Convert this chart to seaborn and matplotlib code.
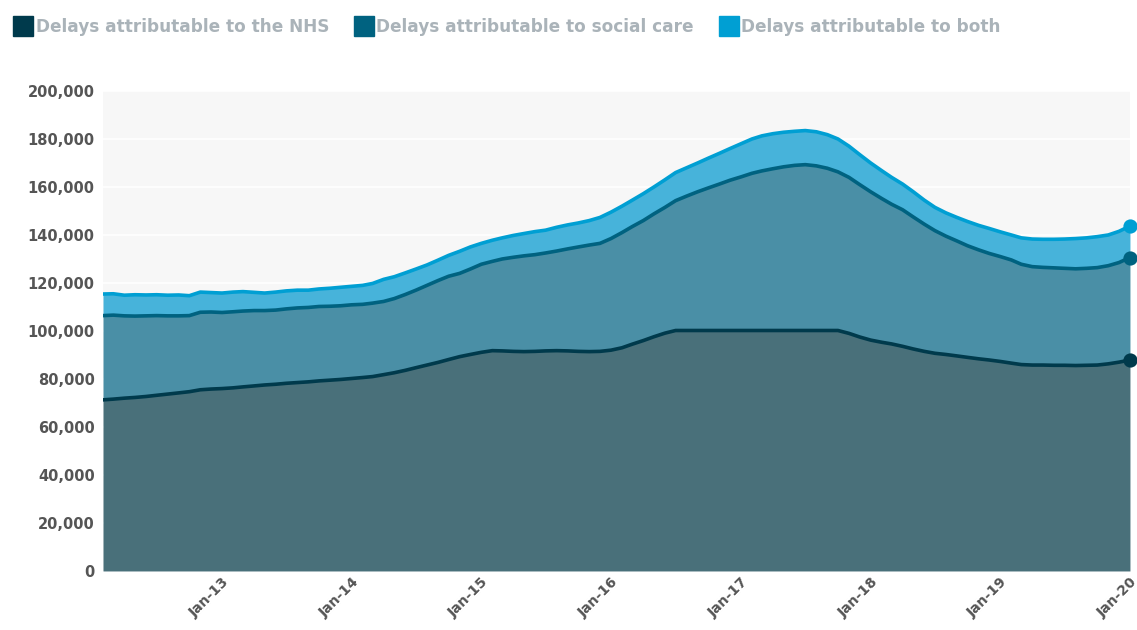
import pandas as pd
import numpy as np
import matplotlib
matplotlib.use("Agg")
import matplotlib.pyplot as plt
import matplotlib.dates as mdates
from matplotlib.lines import Line2D
from matplotlib.ticker import FuncFormatter
import seaborn as sns

# ================= data (monthly, Feb 2012 - Jan 2020) =================
months = pd.date_range("2012-02-01", periods=96, freq="MS")

nhs = [71300, 71600, 72000, 72300, 72700, 73200, 73700, 74200, 74700, 75500,
       75800, 76000, 76300, 76700, 77100, 77500, 77800, 78200, 78500, 78800,
       79200, 79500, 79800, 80200, 80600, 81000, 81800, 82600, 83600, 84700,
       85800, 86900, 88100, 89300, 90200, 91100, 91800, 91700, 91500, 91400,
       91500, 91700, 91800, 91700, 91500, 91400, 91500, 92000, 93000, 94500,
       96000, 97600, 99100, 100200, 100200, 100200, 100200, 100200, 100200, 100200,
       100200, 100200, 100200, 100200, 100200, 100200, 100200, 100200, 100200, 99000,
       97500, 96200, 95300, 94600, 93600, 92500, 91500, 90700, 90200, 89600,
       89000, 88400, 87900, 87300, 86600, 86000, 85800, 85800, 85700, 85700,
       85600, 85700, 85800, 86300, 87000, 87900]

social = [35100, 35000, 34300, 33900, 33600, 33200, 32600, 32100, 31700, 32300,
          32100, 31700, 31700, 31600, 31400, 31000, 30900, 31000, 31100, 31000,
          31000, 30800, 30700, 30700, 30500, 30600, 30500, 30900, 31600, 32300,
          33200, 34100, 34700, 34700, 35600, 36700, 37200, 38300, 39200, 39900,
          40300, 40800, 41500, 42500, 43500, 44400, 45000, 46500, 48000, 49000,
          50000, 51200, 52400, 54100, 56000, 57800, 59400, 61000, 62600, 64000,
          65500, 66500, 67400, 68200, 68800, 69100, 68600, 67600, 66100, 65000,
          63500, 61800, 59900, 58200, 56900, 55000, 53000, 51100, 49300, 47900,
          46500, 45400, 44400, 43700, 43000, 41800, 41000, 40700, 40600, 40400,
          40300, 40400, 40600, 40900, 41500, 42700]

both = [9000, 8900, 8600, 8900, 8700, 8700, 8600, 8700, 8300, 8400,
        8100, 8100, 8200, 8100, 7600, 7300, 7500, 7500, 7400, 7200,
        7300, 7500, 7700, 7700, 7900, 8200, 9200, 9100, 9000, 8800,
        8500, 8500, 8700, 9200, 9200, 8700, 8800, 8800, 9100, 9300,
        9600, 9500, 9900, 10000, 10000, 10200, 10800, 11000, 11000, 11000,
        11200, 11200, 11500, 11700, 11800, 12000, 12400, 12800, 13200, 13800,
        14300, 14600, 14600, 14400, 14200, 14200, 14200, 14000, 13700, 13000,
        12500, 12000, 11600, 11200, 10700, 10500, 10000, 9700, 9700, 9800,
        10100, 10200, 10400, 10300, 10400, 11000, 11500, 11700, 11900, 12200,
        12600, 12700, 12900, 12800, 13000, 13100]

labels = ["Delays attributable to the NHS",
          "Delays attributable to social care",
          "Delays attributable to both"]
line_colors = ["#003a4c", "#006280", "#009fd3"]
fill_colors = ["#49707a", "#4a8fa6", "#47b3da"]

df = pd.DataFrame({"month": months, "nhs": nhs, "social": social, "both": both})
df["lvl_nhs"] = df["nhs"]
df["lvl_social"] = df["nhs"] + df["social"]
df["lvl_both"] = df["lvl_social"] + df["both"]

# ================= style =================
sns.set_theme(style="white")
plt.rcParams["font.family"] = ["DejaVu Sans"]

fig = plt.figure(figsize=(11.37, 6.3), dpi=100)
ax = fig.add_axes([0.0906, 0.0937, 0.9032, 0.7619])
ax.set_facecolor("#f7f7f7")

for y in range(20000, 200001, 20000):
    ax.axhline(y, color="white", lw=1.2, zorder=0)

levels = ["lvl_nhs", "lvl_social", "lvl_both"]
base = np.zeros(len(df))
for i, col in enumerate(levels):
    ax.fill_between(df["month"], base, df[col], color=fill_colors[i], lw=0, zorder=1 + i)
    base = df[col].values

for i, col in enumerate(levels):
    sns.lineplot(data=df, x="month", y=col, ax=ax, color=line_colors[i],
                 lw=2.6, zorder=5 + i)
    last = df.iloc[-1]
    ax.scatter([last["month"]], [last[col]], s=105, color=line_colors[i],
               zorder=10 + i, clip_on=False, lw=0)

ax.set_xlim(df["month"].iloc[0], df["month"].iloc[-1])
ax.set_ylim(0, 200000)
ax.set_xlabel("")
ax.set_ylabel("")

ax.yaxis.set_major_locator(plt.MultipleLocator(20000))
ax.yaxis.set_major_formatter(FuncFormatter(lambda v, p: f"{int(v):,}"))
ax.xaxis.set_major_locator(mdates.YearLocator(month=1))
ax.xaxis.set_major_formatter(mdates.DateFormatter("Jan-%y"))

ax.tick_params(axis="y", length=0, pad=6, labelsize=10.5, labelcolor="#555555")
ax.tick_params(axis="x", length=0, pad=3, labelsize=10, labelcolor="#555555")
for t in ax.get_yticklabels():
    t.set_fontweight("bold")
for t in ax.get_xticklabels():
    t.set_rotation(45)
    t.set_ha("right")
    t.set_rotation_mode("anchor")
    t.set_fontweight("bold")

for s in ax.spines.values():
    s.set_visible(False)

# legend at the top left
handles = [Line2D([0], [0], marker="s", color="none", markerfacecolor=line_colors[i],
                  markeredgecolor=line_colors[i], markersize=14) for i in range(3)]
leg = fig.legend(handles, labels, loc="upper left", bbox_to_anchor=(0.0, 0.995),
                 ncol=3, frameon=False, handlelength=0.9, handletextpad=0.3,
                 columnspacing=1.6, fontsize=12.2)
for t in leg.get_texts():
    t.set_color("#aab3b9")
    t.set_fontweight("bold")

fig.savefig("out.png", dpi=100)
